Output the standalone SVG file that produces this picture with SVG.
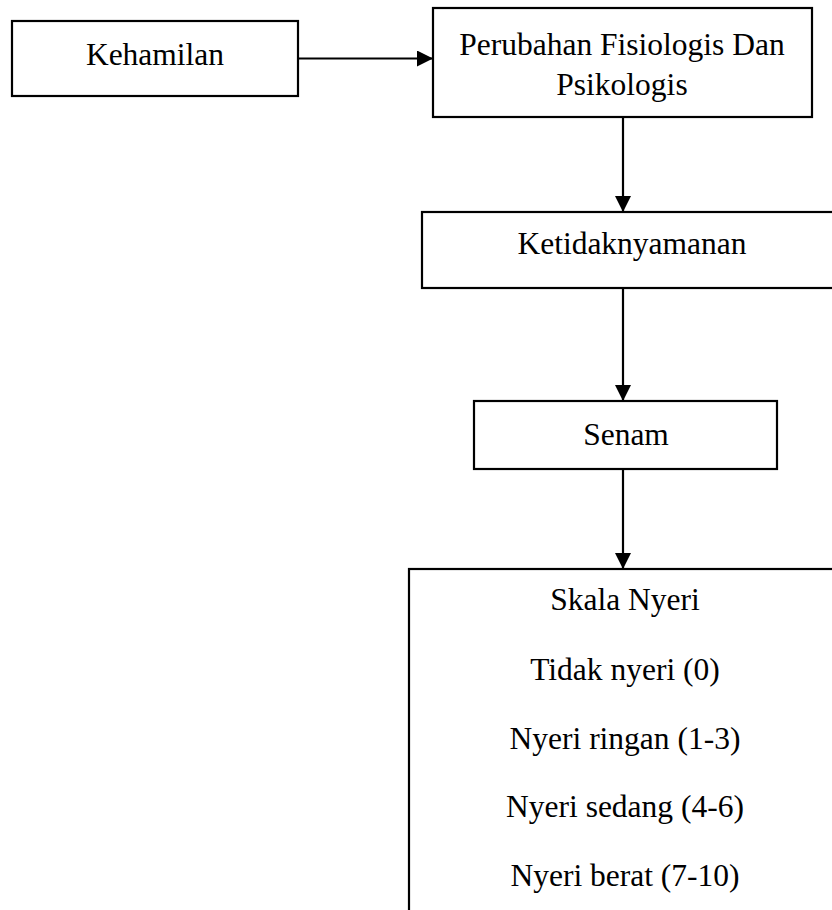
<svg xmlns="http://www.w3.org/2000/svg" width="832" height="910" viewBox="0 0 832 910">
  <style>
    .box { fill: #fff; stroke: #000; stroke-width: 2.2; }
    .lbl { font-family: "Liberation Serif", "Times New Roman", serif; font-size: 31.5px; fill: #000; text-anchor: middle; }
    .conn { stroke: #000; stroke-width: 2.2; fill: none; marker-end: url(#arrow); }
  </style>
  <defs>
    <marker id="arrow" markerUnits="userSpaceOnUse" markerWidth="16" markerHeight="16" viewBox="0 0 16 16" refX="16" refY="8" orient="auto">
      <path d="M0,0 L16,8 L0,16 Z" fill="#000"/>
    </marker>
  </defs>
  <rect width="832" height="910" fill="#fff"/>
  <g id="connectors">
    <line class="conn" x1="298" y1="58.5" x2="433" y2="58.5"/>
    <line class="conn" x1="623" y1="117" x2="623" y2="212"/>
    <line class="conn" x1="623" y1="288" x2="623" y2="401"/>
    <line class="conn" x1="623" y1="469" x2="623" y2="569"/>
  </g>
  <g id="kehamilan">
    <rect class="box" x="12" y="21" width="286" height="75"/>
    <text class="lbl" x="155" y="65">Kehamilan</text>
  </g>
  <g id="perubahan">
    <rect class="box" x="433" y="8" width="379" height="109"/>
    <text class="lbl" x="622" y="55">Perubahan Fisiologis Dan</text>
    <text class="lbl" x="622" y="95">Psikologis</text>
  </g>
  <g id="ketidaknyamanan">
    <rect class="box" x="422" y="212" width="420" height="76"/>
    <text class="lbl" x="632" y="254">Ketidaknyamanan</text>
  </g>
  <g id="senam">
    <rect class="box" x="474" y="401" width="303" height="68"/>
    <text class="lbl" x="626" y="445">Senam</text>
  </g>
  <g id="skala">
    <rect class="box" x="409" y="569" width="432" height="360"/>
    <text class="lbl" x="625" y="610">Skala Nyeri</text>
    <text class="lbl" x="625" y="680">Tidak nyeri (0)</text>
    <text class="lbl" x="625" y="749">Nyeri ringan (1-3)</text>
    <text class="lbl" x="625" y="817">Nyeri sedang (4-6)</text>
    <text class="lbl" x="625" y="886">Nyeri berat (7-10)</text>
  </g>
</svg>
